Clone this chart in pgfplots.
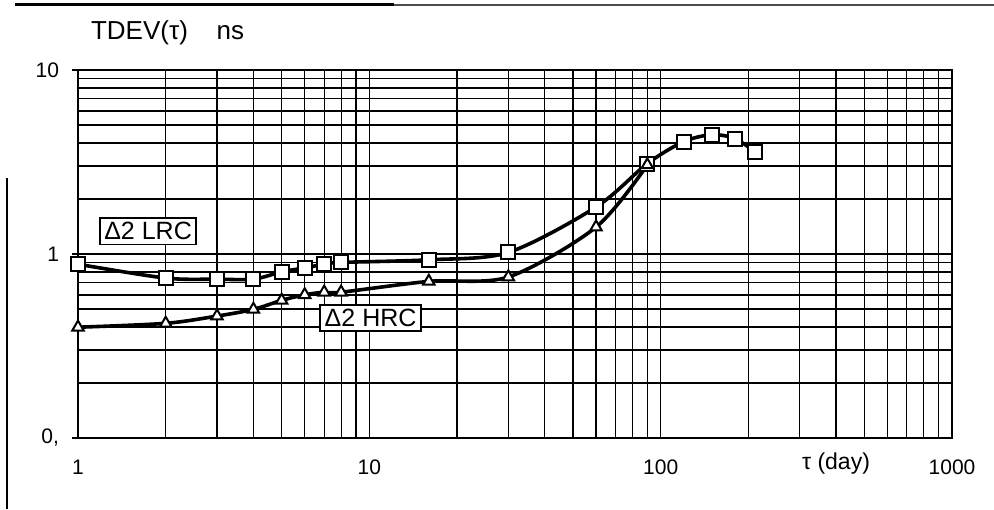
\documentclass[border=0pt]{standalone}
\usepackage{pgfplots}
\pgfplotsset{compat=1.18}
\usepackage{fontspec}
\setmainfont{Liberation Sans}
\begin{document}
\begin{tikzpicture}[x=1pt,y=1pt]
\path[use as bounding box] (0,0) rectangle (497,254.5);
% scan border lines
\draw[line width=1.5pt] (7.5,252) -- (197,252);
\draw[line width=0.6pt,black!70] (197,252) -- (497,252);
\draw[line width=1.1pt] (3.5,165.5) -- (3.5,0);
\begin{axis}[
  at={(39pt,35.5pt)}, anchor=south west,
  scale only axis, width=437pt, height=184pt,
  xmode=log, ymode=log,
  xmin=1, xmax=1000, ymin=0.1, ymax=10,
  log basis x=10, log basis y=10,
  xtick={1,10,100,1000}, xticklabels={1,10,100,1000},
  ytick={0.1,1,10}, yticklabels={{0,},1,10},
  minor xtick={2,3,4,5,6,7,8,9,20,30,40,50,60,70,80,90,200,300,400,500,600,700,800,900},
  minor ytick={0.2,0.3,0.4,0.5,0.6,0.7,0.8,0.9,2,3,4,5,6,7,8,9},
  grid=both,
  major grid style={black, line width=0.7pt},
  minor x grid style={black, line width=0.6pt},
  minor y grid style={black, line width=0.9pt},
  axis line style={black, line width=1pt, densely dotted},
  tick style={black, line width=0.6pt},
  xtick style={draw=none}, minor tick style={draw=none},
  ytick pos=left, xtick pos=bottom,
  tick align=outside, major tick length=3pt,
  tick label style={font=\fontsize{10.5}{12}\selectfont},
  /pgf/number format/assume math mode=true,
  xticklabel style={yshift=-4.5pt},
  yticklabel style={xshift=-3pt},
  clip=false,
]
\addplot[black, line width=1.8pt, smooth, tension=0.5, mark=square*, mark size=3.5pt,
  mark options={fill=white, line width=1pt, solid}] coordinates {
(1,0.88) (2,0.74) (3,0.73) (4,0.73) (5,0.80) (6,0.84) (7,0.88) (8,0.90)
(16,0.93) (30,1.02) (60,1.8) (90,3.1) (120,4.08) (150,4.45) (180,4.24) (210,3.6)
};
\addplot[black, line width=1.8pt, smooth, tension=0.5, mark=triangle*, mark size=3.3pt,
  mark options={fill=white, line width=1pt, solid}] coordinates {
(1,0.40) (2,0.42) (3,0.46) (4,0.50) (5,0.56) (6,0.60) (7,0.62) (8,0.62)
(16,0.71) (30,0.75) (60,1.40) (90,3.05)
};
\node[draw=black, line width=0.9pt, fill=white, inner sep=2.2pt, font=\fontsize{12.5}{14}\selectfont]
  at (axis cs:1.74,1.33) {Δ2 LRC};
\node[draw=black, line width=0.9pt, fill=white, inner sep=2.2pt, font=\fontsize{12.5}{14}\selectfont]
  at (axis cs:10.1,0.449) {Δ2 HRC};
\end{axis}
\node[anchor=west, font=\fontsize{13}{15}\selectfont] at (42,238) {TDEV(τ)\hspace{1.1em}ns};
\node[font=\fontsize{11.5}{13}\selectfont] at (418,22.5) {τ (day)};
\end{tikzpicture}
\end{document}
